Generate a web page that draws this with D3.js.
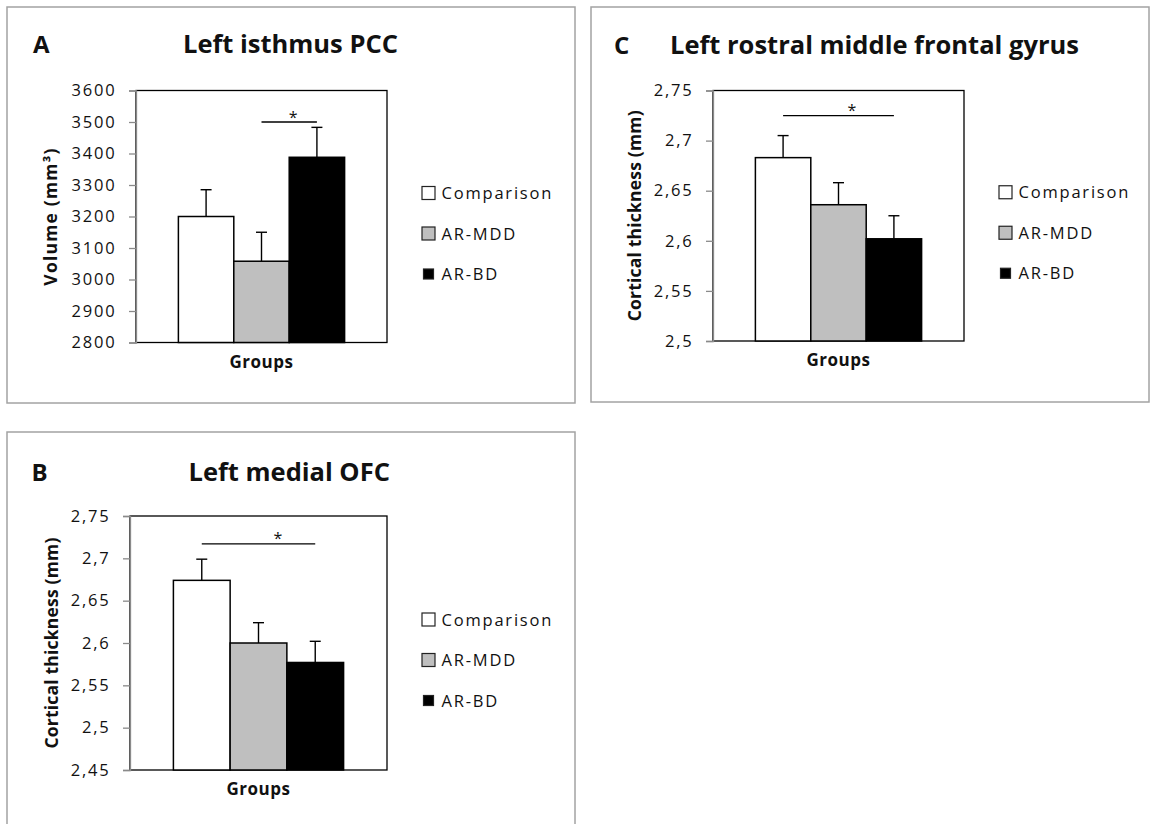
<!DOCTYPE html>
<html>
<head>
<meta charset="utf-8">
<script src="https://cdn.jsdelivr.net/npm/d3@7"></script>
<style>
  html, body { margin: 0; padding: 0; background: #fff; }
  svg { display: block; font-family: "Open Sans", sans-serif; }
</style>
</head>
<body>
<svg id="fig" width="1151" height="824"></svg>
<script>
// Diagnostic groups shared by all three panels
const groups = ["Comparison", "AR-MDD", "AR-BD"];

// Panel A: left isthmus PCC volume (mm³), mean and standard error
const pccMeans = [3200, 3058, 3388];
const pccSE = [85, 92, 95];
const pccTicks = [2800, 2900, 3000, 3100, 3200, 3300, 3400, 3500, 3600];
const pccSig = { from: 1, to: 2, level: 3500, starAt: 0.57 };

// Panel B: left medial OFC cortical thickness (mm)
const ofcMeans = [2.674, 2.600, 2.577];
const ofcSE = [0.025, 0.024, 0.025];
const ofcTicks = [2.45, 2.5, 2.55, 2.6, 2.65, 2.7, 2.75];
const ofcSig = { from: 0, to: 2, level: 2.717, starAt: 0.67 };

// Panel C: left rostral middle frontal gyrus cortical thickness (mm)
const rmfgMeans = [2.683, 2.636, 2.602];
const rmfgSE = [0.022, 0.022, 0.023];
const rmfgTicks = [2.5, 2.55, 2.6, 2.65, 2.7, 2.75];
const rmfgSig = { from: 0, to: 2, level: 2.725, starAt: 0.62 };

const fig = d3.select("#fig");
const fill = d3.scaleOrdinal().domain(groups).range(["#ffffff", "#bfbfbf", "#000000"]);
const commaLocale = d3.formatLocale({ decimal: ",", thousands: "", grouping: [3], currency: ["", ""] });
const tickFmt = commaLocale.format("~g");

const panels = [
  {
    letter: "A", title: "Left isthmus PCC", yLabel: "Volume (mm³)",
    means: pccMeans, se: pccSE, ticks: pccTicks, sig: pccSig,
    frame: [7, 7, 575, 403], plot: { l: 136, t: 90.5, r: 387, b: 342.5 },
    letterX: 33, titleX: 183, titleY: 53, yLabelDx: -79, yLabelSpacing: 1.2
  },
  {
    letter: "B", title: "Left medial OFC", yLabel: "Cortical thickness (mm)",
    means: ofcMeans, se: ofcSE, ticks: ofcTicks, sig: ofcSig,
    frame: [7, 432, 575, 840], plot: { l: 130, t: 516, r: 387, b: 770 },
    letterX: 31.5, titleX: 188.5, titleY: 480.5, yLabelDx: -72, yLabelSpacing: 0.2
  },
  {
    letter: "C", title: "Left rostral middle frontal gyrus", yLabel: "Cortical thickness (mm)",
    means: rmfgMeans, se: rmfgSE, ticks: rmfgTicks, sig: rmfgSig,
    frame: [591, 7, 1149, 402], plot: { l: 713, t: 90.5, r: 964, b: 341 },
    letterX: 614, titleX: 670, titleY: 54, yLabelDx: -72, yLabelSpacing: 0.2
  }
];

function drawPanel(p) {
  const g = fig.append("g");
  const [fx0, fy0, fx1, fy1] = p.frame;
  const { l, t, r, b } = p.plot;

  // panel frame
  g.append("rect")
    .attr("x", fx0).attr("y", fy0)
    .attr("width", fx1 - fx0).attr("height", fy1 - fy0)
    .attr("fill", "#fff").attr("stroke", "#a3a3a3").attr("stroke-width", 1.5);

  // panel letter and title
  g.append("text")
    .attr("x", p.letterX).attr("y", p.titleY)
    .attr("font-weight", 700).attr("font-size", 24).attr("fill", "#111")
    .text(p.letter);
  g.append("text")
    .attr("x", p.titleX).attr("y", p.titleY)
    .attr("font-weight", 700).attr("font-size", 25.5).attr("fill", "#111")
    .text(p.title);

  // scales
  const y = d3.scaleLinear().domain(d3.extent(p.ticks)).range([b, t]);
  const outer = d3.scaleBand().domain(["Groups"]).range([l, r]).paddingOuter(0.255);
  const x = d3.scaleBand().domain(groups)
    .range([outer("Groups"), outer("Groups") + outer.bandwidth()]);
  const bw = x.bandwidth();

  // plot area border
  g.append("rect")
    .attr("x", l).attr("y", t).attr("width", r - l).attr("height", b - t)
    .attr("fill", "#fff").attr("stroke", "#000").attr("stroke-width", 1.3);

  const rows = groups.map((k, i) => ({ k, m: p.means[i], se: p.se[i] }));

  // error bars (upper whisker only)
  const eb = g.append("g").attr("stroke", "#000").attr("stroke-width", 1.4);
  eb.selectAll("line.stem").data(rows).join("line").attr("class", "stem")
    .attr("x1", d => x(d.k) + bw / 2).attr("x2", d => x(d.k) + bw / 2)
    .attr("y1", d => y(d.m)).attr("y2", d => y(d.m + d.se));
  eb.selectAll("line.cap").data(rows).join("line").attr("class", "cap")
    .attr("x1", d => x(d.k) + bw / 2 - 5.5).attr("x2", d => x(d.k) + bw / 2 + 5.5)
    .attr("y1", d => y(d.m + d.se)).attr("y2", d => y(d.m + d.se));

  // bars
  g.selectAll("rect.bar").data(rows).join("rect").attr("class", "bar")
    .attr("x", d => x(d.k)).attr("y", d => y(d.m))
    .attr("width", bw).attr("height", d => y.range()[0] - y(d.m))
    .attr("fill", d => fill(d.k)).attr("stroke", "#000").attr("stroke-width", 1.5);

  // significance bracket
  const sx1 = x(groups[p.sig.from]) + bw / 2;
  const sx2 = x(groups[p.sig.to]) + bw / 2;
  const sy = y(p.sig.level);
  g.append("line")
    .attr("x1", sx1).attr("x2", sx2).attr("y1", sy).attr("y2", sy)
    .attr("stroke", "#000").attr("stroke-width", 1.3);
  g.append("text")
    .attr("x", sx1 + (sx2 - sx1) * p.sig.starAt).attr("y", sy + 0.5)
    .attr("text-anchor", "middle").attr("font-size", 16).attr("fill", "#111")
    .text("*");

  // value axis
  const ax = g.append("g")
    .attr("transform", `translate(${l},0)`)
    .call(d3.axisLeft(y).tickValues(p.ticks).tickFormat(tickFmt).tickSize(7).tickPadding(12.5));
  ax.attr("font-size", 16.5).attr("font-family", '"Open Sans", sans-serif');
  ax.select(".domain").attr("stroke", "#8a8a8a").attr("stroke-width", 1.3);
  ax.selectAll(".tick line").attr("stroke", "#8a8a8a").attr("stroke-width", 1.3);
  ax.selectAll(".tick text").attr("fill", "#111").attr("letter-spacing", 1.8);

  // axis titles
  g.append("text")
    .attr("transform", `translate(${l + p.yLabelDx},${(t + b) / 2}) rotate(-90)`)
    .attr("text-anchor", "middle").attr("font-weight", 700).attr("font-size", 17.5)
    .attr("letter-spacing", p.yLabelSpacing).attr("fill", "#111")
    .text(p.yLabel);
  g.append("text")
    .attr("x", (l + r) / 2).attr("y", b + 25)
    .attr("text-anchor", "middle").attr("font-weight", 700).attr("font-size", 17)
    .attr("letter-spacing", 0.5).attr("fill", "#111")
    .text("Groups");

  // legend
  const mid = (t + b) / 2 + 17;
  const lg = g.append("g").attr("transform", `translate(${r + 35},0)`);
  const item = lg.selectAll("g").data(groups).join("g")
    .attr("transform", (d, i) => `translate(0,${mid + (i - 1) * 40.5})`);
  item.append("rect")
    .attr("x", d => d === "AR-BD" ? 1.5 : 0)
    .attr("y", d => d === "AR-BD" ? -5 : -6.5)
    .attr("width", d => d === "AR-BD" ? 10 : 13)
    .attr("height", d => d === "AR-BD" ? 10 : 13)
    .attr("fill", d => fill(d)).attr("stroke", "#222").attr("stroke-width", 1.2);
  item.append("text")
    .attr("x", 19.5).attr("y", 6)
    .attr("font-size", 16.5).attr("letter-spacing", 1.8).attr("fill", "#111")
    .text(d => d);
}

panels.forEach(drawPanel);
</script>
</body>
</html>
